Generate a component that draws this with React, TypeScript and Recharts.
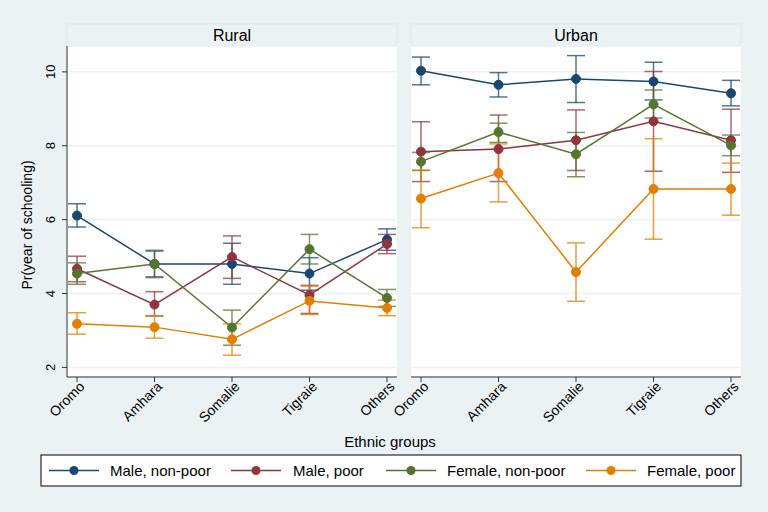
import React from 'react';
import { LineChart, Line, XAxis, YAxis, CartesianGrid, ErrorBar } from 'recharts';

const categories = ['Oromo', 'Amhara', 'Somalie', 'Tigraie', 'Others'];
const yTicks = [2, 4, 6, 8, 10];

// Rural
const ruralMaleNonPoor = [6.11, 4.8, 4.8, 4.54, 5.46];
const ruralMaleNonPoorLo = [5.8, 4.45, 4.25, 4.09, 5.17];
const ruralMaleNonPoorHi = [6.43, 5.15, 5.36, 4.97, 5.75];
const ruralMalePoor = [4.67, 3.7, 4.99, 3.96, 5.34];
const ruralMalePoorLo = [4.32, 3.39, 4.41, 3.46, 5.08];
const ruralMalePoorHi = [5.01, 4.05, 5.56, 4.22, 5.6];
const ruralFemaleNonPoor = [4.54, 4.8, 3.08, 5.2, 3.88];
const ruralFemaleNonPoorLo = [4.25, 4.43, 2.6, 4.8, 3.65];
const ruralFemaleNonPoorHi = [4.83, 5.17, 3.55, 5.6, 4.11];
const ruralFemalePoor = [3.18, 3.09, 2.76, 3.8, 3.61];
const ruralFemalePoorLo = [2.9, 2.79, 2.33, 3.43, 3.4];
const ruralFemalePoorHi = [3.48, 3.4, 3.18, 4.2, 3.82];

// Urban
const urbanMaleNonPoor = [10.03, 9.65, 9.81, 9.74, 9.42];
const urbanMaleNonPoorLo = [9.65, 9.32, 9.17, 9.24, 9.08];
const urbanMaleNonPoorHi = [10.4, 9.98, 10.44, 10.26, 9.77];
const urbanMalePoor = [7.84, 7.91, 8.15, 8.66, 8.15];
const urbanMalePoorLo = [7.03, 7.03, 7.33, 7.31, 7.28];
const urbanMalePoorHi = [8.65, 8.83, 8.97, 10.01, 8.99];
const urbanFemaleNonPoor = [7.57, 8.37, 7.77, 9.12, 8.01];
const urbanFemaleNonPoorLo = [7.33, 8.09, 7.16, 8.75, 7.73];
const urbanFemaleNonPoorHi = [7.82, 8.61, 8.36, 9.51, 8.29];
const urbanFemalePoor = [6.57, 7.26, 4.58, 6.83, 6.83];
const urbanFemalePoorLo = [5.78, 6.48, 3.79, 5.47, 6.12];
const urbanFemalePoorHi = [7.34, 8.05, 5.37, 8.19, 7.53];

const seriesNames = ['Male, non-poor', 'Male, poor', 'Female, non-poor', 'Female, poor'];
const colors = ['#1a476f', '#90353b', '#55752f', '#e37e00'];
const keys = ['mnp', 'mp', 'fnp', 'fp'];

const FONT = '"Liberation Sans", Arial, Helvetica, sans-serif';

function buildRows(vals: number[][], los: number[][], his: number[][]) {
  return categories.map((c, i) => {
    const row: any = { cat: c };
    keys.forEach((k, s) => {
      row[k] = vals[s][i];
      row[k + 'Err'] = [vals[s][i] - los[s][i], his[s][i] - vals[s][i]];
    });
    return row;
  });
}

const ruralData = buildRows(
  [ruralMaleNonPoor, ruralMalePoor, ruralFemaleNonPoor, ruralFemalePoor],
  [ruralMaleNonPoorLo, ruralMalePoorLo, ruralFemaleNonPoorLo, ruralFemalePoorLo],
  [ruralMaleNonPoorHi, ruralMalePoorHi, ruralFemaleNonPoorHi, ruralFemalePoorHi]
);
const urbanData = buildRows(
  [urbanMaleNonPoor, urbanMalePoor, urbanFemaleNonPoor, urbanFemalePoor],
  [urbanMaleNonPoorLo, urbanMalePoorLo, urbanFemaleNonPoorLo, urbanFemalePoorLo],
  [urbanMaleNonPoorHi, urbanMalePoorHi, urbanFemaleNonPoorHi, urbanFemalePoorHi]
);

const XTick = (props: any) => {
  const { x, y, payload } = props;
  return (
    <g transform={`translate(${x + 5},${y})`}>
      <text
        x={0}
        y={0}
        dy={5}
        textAnchor="end"
        transform="rotate(-45)"
        fontSize={14}
        fontFamily={FONT}
        fill="#000"
      >
        {payload.value}
      </text>
    </g>
  );
};

const YTick = (props: any) => {
  const { x, y, payload } = props;
  const bx = x - 5;
  return (
    <text
      x={bx}
      y={y}
      textAnchor="middle"
      transform={`rotate(-90, ${bx}, ${y})`}
      fontSize={13}
      fontFamily={FONT}
      fill="#000"
    >
      {payload.value}
    </text>
  );
};

function Panel({ data, showY, left, width, marginLeft }: any) {
  return (
    <div style={{ position: 'absolute', left, top: 0 }}>
      <LineChart
        width={width}
        height={430}
        data={data}
        margin={{ top: 46, right: 3, bottom: 3, left: marginLeft }}
      >
        <CartesianGrid
          vertical={false}
          horizontal={true}
          stroke="#eaf2f3"
          strokeWidth={1.5}
          fill="#ffffff"
          fillOpacity={1}
        />
        <XAxis
          dataKey="cat"
          type="category"
          padding={{ left: 10, right: 10 }}
          height={50}
          tickSize={5}
          tick={<XTick />}
          interval={0}
          axisLine={{ stroke: '#333', strokeWidth: 1 }}
          tickLine={{ stroke: '#333', strokeWidth: 1 }}
        />
        <YAxis
          type="number"
          domain={[1.74, 10.7]}
          ticks={yTicks}
          width={50}
          hide={!showY}
          tickSize={5}
          tick={<YTick />}
          axisLine={{ stroke: '#333', strokeWidth: 1 }}
          tickLine={{ stroke: '#333', strokeWidth: 1 }}
          allowDataOverflow={true}
        />
        {keys.map((k, s) => (
          <Line
            key={k}
            dataKey={k}
            name={seriesNames[s]}
            stroke={colors[s]}
            strokeWidth={1.5}
            isAnimationActive={false}
            dot={{ r: 4.5, fill: colors[s], stroke: colors[s], strokeWidth: 1 }}
            activeDot={false}
          >
            <ErrorBar
              dataKey={k + 'Err'}
              direction="y"
              width={9}
              stroke={colors[s]}
              strokeWidth={1.5}
              strokeOpacity={0.75}
            />
          </Line>
        ))}
      </LineChart>
    </div>
  );
}

const legendItems = [
  { lineX: 49, textX: 110 },
  { lineX: 231, textX: 293 },
  { lineX: 386, textX: 447 },
  { lineX: 586, textX: 647 },
];

export default function App() {
  return (
    <div
      style={{
        position: 'absolute',
        left: 0,
        top: 0,
        width: 768,
        height: 512,
        background: '#eaf2f3',
        overflow: 'hidden',
        fontFamily: FONT,
      }}
    >
      <svg width={768} height={512} style={{ position: 'absolute', left: 0, top: 0 }}>
        <rect x={67} y={24} width={330} height={22} fill="#eaf2f3" stroke="#dce7e9" strokeWidth={1} />
        <rect x={411} y={24} width={330} height={22} fill="#eaf2f3" stroke="#dce7e9" strokeWidth={1} />
        <text x={232} y={41} textAnchor="middle" fontSize={16} fontFamily={FONT} fill="#000">
          Rural
        </text>
        <text x={576} y={41} textAnchor="middle" fontSize={16} fontFamily={FONT} fill="#000">
          Urban
        </text>
        <text
          x={32}
          y={225}
          textAnchor="middle"
          transform="rotate(-90, 32, 225)"
          fontSize={14}
          fontFamily={FONT}
          fill="#000"
        >
          Pr(year of schooling)
        </text>
        <text x={390} y={447} textAnchor="middle" fontSize={15} fontFamily={FONT} fill="#000">
          Ethnic groups
        </text>
        <rect x={41} y={455} width={700} height={31} fill="#ffffff" stroke="#000" strokeWidth={1} />
        {legendItems.map((it, i) => (
          <g key={i}>
            <line x1={it.lineX} x2={it.lineX + 50} y1={470.5} y2={470.5} stroke={colors[i]} strokeWidth={1.5} />
            <circle cx={it.lineX + 25} cy={470.5} r={4.5} fill={colors[i]} />
            <text x={it.textX} y={476} fontSize={15} fontFamily={FONT} fill="#000">
              {seriesNames[i]}
            </text>
          </g>
        ))}
      </svg>
      <Panel data={ruralData} showY={true} left={0} width={400} marginLeft={17} />
      <Panel data={urbanData} showY={false} left={360} width={384} marginLeft={51} />
    </div>
  );
}
